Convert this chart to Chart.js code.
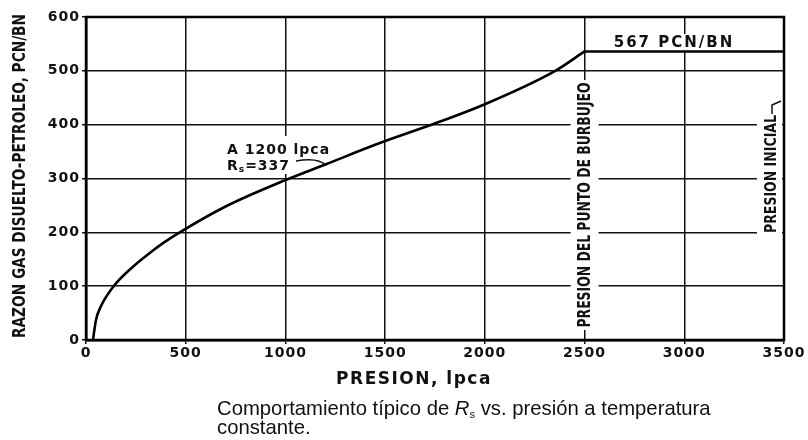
<!DOCTYPE html>
<html>
<head>
<meta charset="utf-8">
<script src="https://cdn.jsdelivr.net/npm/chart.js@4.4.1/dist/chart.umd.min.js"></script>
<style>
  html, body { margin: 0; padding: 0; background: #fff; }
  #wrap { position: relative; width: 808px; height: 440px; }
  #c { position: absolute; left: 0; top: 0; }
  #caption { position: absolute; left: 217px; top: 399px; font-family: 'Liberation Sans', Arial, sans-serif; font-size: 20.3px; line-height: 19px; color: #111; }
  #caption sub { font-size: 11px; vertical-align: -3px; line-height: 0; }
</style>
</head>
<body>
<div id="wrap">
  <canvas id="c" width="808" height="440"></canvas>
  <div id="caption">Comportamiento típico de <i>R</i><sub>s</sub> vs. presión a temperatura<br>constante.</div>
</div>
<script>
// ---- data ----
const pressure = [35, 50, 74, 139, 223, 307, 386, 470, 700, 1000, 1200, 1460, 1755, 2000, 2353, 2500];
const rsValues = [0, 37, 62, 100, 132, 158, 180, 200, 248, 297, 326, 364, 403, 438, 500, 536];
const flatPressure = [2500, 3500];
const flatRs = [536, 536];
const xTicks = [0, 500, 1000, 1500, 2000, 2500, 3000, 3500];
const yTicks = [0, 100, 200, 300, 400, 500, 600];
const xTitle = 'PRESION, lpca';
const yTitle = 'RAZON GAS DISUELTO-PETROLEO, PCN/BN';
const flatLabel = '567 PCN/BN';
const bubbleLabel = 'PRESION DEL PUNTO DE BURBUJEO';
const initialLabel = 'PRESION INICIAL';
const noteLine1 = 'A 1200 lpca';
const noteRs = '337';
const notePoint = { x: 1200, y: 326 };

const curveData = pressure.map((p, i) => ({ x: p, y: rsValues[i] }));
const flatData = flatPressure.map((p, i) => ({ x: p, y: flatRs[i] }));

const WIDE = "'DejaVu Sans', Verdana, sans-serif";

function condensedVertical(ctx, text, cx, cy, size, targetLen) {
  ctx.save();
  ctx.font = 'bold ' + size + 'px ' + WIDE;
  ctx.letterSpacing = '0px';
  const w = ctx.measureText(text).width;
  ctx.translate(cx, cy);
  ctx.rotate(-Math.PI / 2);
  ctx.scale(targetLen / w, 1);
  ctx.textAlign = 'center';
  ctx.textBaseline = 'middle';
  ctx.fillText(text, 0, 0);
  ctx.restore();
}

const decor = {
  id: 'decor',
  beforeDraw(chart) {
    chart.ctx.letterSpacing = '1px';
  },
  beforeDatasetsDraw(chart) {
    const { ctx, chartArea: a, scales: { x, y } } = chart;
    ctx.save();
    ctx.fillStyle = '#fff';
    const bx = x.getPixelForValue(2500);
    ctx.fillRect(bx - 14, 80, 28, 250);
    ctx.fillRect(a.right - 27, 98, 25, 137);
    ctx.fillRect(610, 34, 126, 17);
    ctx.fillRect(224, 136, 106, 38);
    ctx.restore();
  },
  afterDatasetsDraw(chart) {
    const { ctx, chartArea: a, scales: { x, y } } = chart;
    ctx.save();
    ctx.strokeStyle = '#000';
    ctx.lineWidth = 2.5;
    ctx.strokeRect(a.left, a.top, a.right - a.left, a.bottom - a.top);

    ctx.fillStyle = '#111';
    ctx.textBaseline = 'middle';

    condensedVertical(ctx, yTitle, 21, 176, 17, 324);
    const bx = x.getPixelForValue(2500);
    condensedVertical(ctx, bubbleLabel, bx + 1, 205, 17, 245);
    condensedVertical(ctx, initialLabel, a.right - 12, 174, 15, 118);
    ctx.strokeStyle = '#111';
    ctx.lineWidth = 1.5;
    ctx.beginPath();
    ctx.moveTo(a.right - 12, 114);
    ctx.lineTo(a.right - 12, 105);
    ctx.lineTo(a.right - 3, 101);
    ctx.stroke();

    ctx.letterSpacing = '2px';
    ctx.font = 'bold 15px ' + WIDE;
    ctx.textAlign = 'center';
    ctx.fillText(flatLabel, 674, 43);

    ctx.letterSpacing = '1px';
    ctx.textAlign = 'left';
    ctx.font = 'bold 14px ' + WIDE;
    ctx.fillText(noteLine1, 227, 150);
    ctx.fillText('R', 227, 166);
    const rw = ctx.measureText('R').width;
    ctx.font = 'bold 9px ' + WIDE;
    ctx.fillText('s', 227 + rw, 170);
    const sw = ctx.measureText('s').width;
    ctx.font = 'bold 14px ' + WIDE;
    ctx.fillText('=' + noteRs, 227 + rw + sw, 166);
    const px = x.getPixelForValue(notePoint.x), py = y.getPixelForValue(notePoint.y);
    ctx.beginPath();
    ctx.lineWidth = 1.6;
    ctx.moveTo(296, 161);
    ctx.quadraticCurveTo(318, 157, px + 1, py + 1);
    ctx.stroke();

    ctx.letterSpacing = '1.5px';
    ctx.font = 'bold 17px ' + WIDE;
    ctx.textAlign = 'center';
    ctx.fillText(xTitle, 414, 380);
    ctx.restore();
  }
};

new Chart(document.getElementById('c'), {
  type: 'scatter',
  data: {
    datasets: [
      { data: curveData, showLine: true, borderColor: '#000', borderWidth: 2.6, pointRadius: 0, cubicInterpolationMode: 'monotone', fill: false },
      { data: flatData, showLine: true, borderColor: '#000', borderWidth: 2.6, pointRadius: 0, fill: false }
    ]
  },
  options: {
    responsive: false,
    animation: false,
    events: [],
    layout: { padding: { top: 17, right: 24, left: 0, bottom: 0 } },
    plugins: { legend: { display: false }, tooltip: { enabled: false } },
    scales: {
      x: {
        type: 'linear', min: 0, max: 3500,
        afterBuildTicks: s => { s.ticks = xTicks.map(v => ({ value: v })); },
        afterFit: s => { s.height = 100; },
        grid: { color: '#111', lineWidth: 1.5, tickLength: 4 },
        border: { color: '#000', width: 2.5 },
        ticks: { color: '#111', font: { family: WIDE, size: 14, weight: 'bold' }, padding: 1, maxRotation: 0, autoSkip: false, callback: v => String(v) }
      },
      y: {
        type: 'linear', min: 0, max: 600,
        afterBuildTicks: s => { s.ticks = yTicks.map(v => ({ value: v })); },
        afterFit: s => { s.width = 86; },
        grid: { color: '#111', lineWidth: 1.5, tickLength: 4 },
        border: { color: '#000', width: 2.5 },
        ticks: { color: '#111', font: { family: WIDE, size: 14, weight: 'bold' }, padding: 2, autoSkip: false, callback: v => String(v) }
      }
    }
  },
  plugins: [decor]
});
</script>
</body>
</html>
